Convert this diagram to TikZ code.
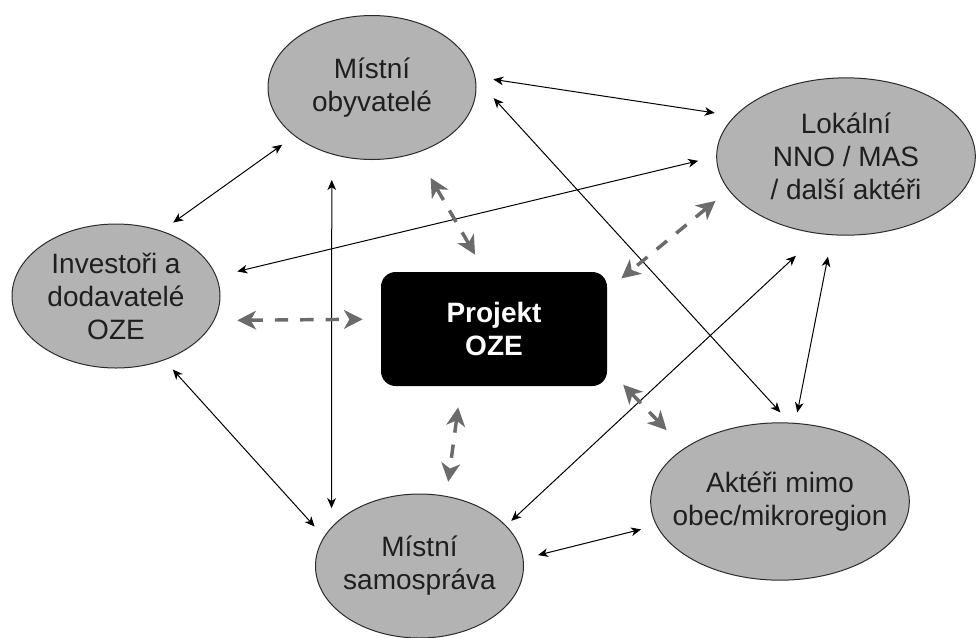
\documentclass[tikz,border=0pt]{standalone}
\usepackage{fontspec}
\setmainfont{Liberation Sans}
\usetikzlibrary{shapes.geometric,arrows.meta}
\definecolor{actorfill}{HTML}{B3B3B3}
\definecolor{actorline}{HTML}{2B2B2B}
\definecolor{actortext}{HTML}{1F1F1F}
\definecolor{dashgray}{HTML}{6B6B6B}

\begin{document}
\begin{tikzpicture}[x=0.75pt,y=0.75pt,yscale=-1,xscale=1,
  actor/.style={ellipse,draw=actorline,fill=actorfill,line width=0.75pt,inner sep=-15pt,align=center,text=actortext,font=\fontsize{21}{24.75}\selectfont,minimum width=156pt,minimum height=108pt},
  bigactor/.style={actor,minimum width=194pt,minimum height=118pt},
  project/.style={rectangle,rounded corners=11pt,fill=black,text=white,align=center,font=\fontsize{21}{24.75}\selectfont\bfseries,minimum width=169.5pt,minimum height=85.5pt},
  link/.style={draw=black,line width=0.75pt,{Stealth[length=7.5pt,width=6.5pt,inset=2.2pt]}-{Stealth[length=7.5pt,width=6.5pt,inset=2.2pt]}},
  flow/.style={draw=dashgray,line width=2.6pt,dash pattern=on 10pt off 9pt,{Stealth[length=14pt,width=14pt,inset=4pt]}-{Stealth[length=14pt,width=14pt,inset=4pt]}}]
\useasboundingbox (0,0) rectangle (976,637);

%Shape: Ellipse
\node [actor] (obyv) at (372,87.5) {Místní\\obyvatelé};
%Shape: Ellipse
\node [bigactor] (lok) at (846,156.5) {Lokální\\NNO / MAS\\/ další aktéři};
%Shape: Ellipse
\node [actor] (inv) at (116,296) {Investoři a\\dodavatelé\\OZE};
%Shape: Ellipse
\node [bigactor] (akt) at (780,501.5) {Aktéři mimo\\obec/mikroregion};
%Shape: Ellipse
\node [actor] (sam) at (419.5,566) {Místní\\samospráva};
%Rounded Rect
\node [project] (proj) at (494,329) {Projekt\\OZE};

%Straight Lines
\draw [link,shorten <=13.65pt,shorten >=15pt] (obyv.6) -- (lok.160) ;
%Straight Lines
\draw [link,shorten <=19.95pt,shorten >=10.35pt] (obyv.5) -- (akt.83) ;
%Straight Lines
\draw [link,shorten <=13.9pt,shorten >=16pt] (lok.180) -- (inv.11) ;
%Straight Lines
\draw [link,shorten <=11.2pt,shorten >=10.65pt] (obyv.-148) -- (inv.55) ;
%Straight Lines
\draw [link,shorten <=19.2pt,shorten >=14pt] (obyv.-121) -- (sam.156) ;
%Straight Lines
\draw [link,shorten <=9.4pt,shorten >=10.35pt] (inv.-53) -- (sam.163) ;
%Straight Lines
\draw [link,shorten <=24pt,shorten >=5.2pt] (lok.-109) -- (sam.25) ;
%Straight Lines
\draw [link,shorten <=16.4pt,shorten >=8pt] (lok.-100) -- (akt.79) ;
%Straight Lines
\draw [link,shorten <=11.25pt,shorten >=11.8pt] (sam.4) -- (akt.191) ;

%Dashed Lines
\draw [flow,shorten <=21.45pt,shorten >=14.8pt] (obyv.-56) -- (proj.99) ;
%Dashed Lines
\draw [flow,shorten <=12.6pt,shorten >=13.65pt] (lok.196) -- (proj.19) ;
%Dashed Lines
\draw [flow,shorten <=17.2pt,shorten >=13.5pt] (inv.-14) -- (proj.175) ;
%Dashed Lines
\draw [flow,shorten <=15.9pt,shorten >=10.7pt] (proj.-120) -- (sam.69) ;
%Dashed Lines
\draw [flow,shorten <=17.3pt,shorten >=18.75pt] (proj.-19) -- (akt.151) ;
\end{tikzpicture}
\end{document}
